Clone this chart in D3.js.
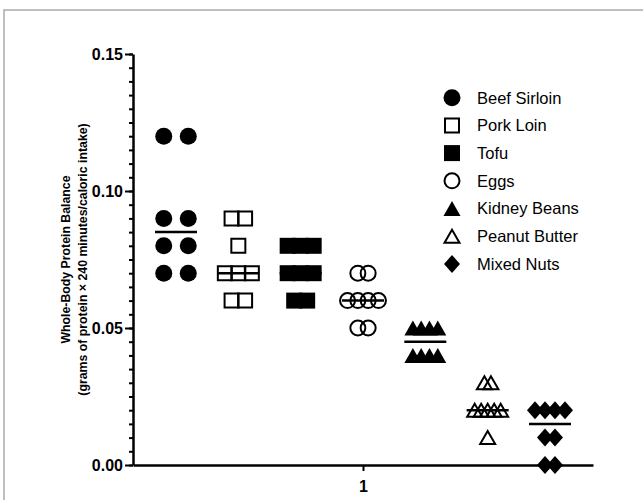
<!DOCTYPE html>
<html>
<head>
<meta charset="utf-8">
<script src="https://cdn.jsdelivr.net/npm/d3@7"></script>
<style>
  body { margin: 0; background: #fff; }
  svg { font-family: "Liberation Sans", Arial, sans-serif; }
</style>
</head>
<body>
<svg id="chart"></svg>
<script>
// Data (grams of protein x 240 min / caloric intake)
const categories = ['Beef Sirloin', 'Pork Loin', 'Tofu', 'Eggs', 'Kidney Beans', 'Peanut Butter', 'Mixed Nuts'];
const beefSirloin = [0.12, 0.12, 0.09, 0.09, 0.08, 0.08, 0.07, 0.07];
const porkLoin = [0.09, 0.09, 0.08, 0.07, 0.07, 0.07, 0.06, 0.06];
const tofu = [0.08, 0.08, 0.08, 0.07, 0.07, 0.07, 0.06, 0.06];
const eggs = [0.07, 0.07, 0.06, 0.06, 0.06, 0.06, 0.05, 0.05];
const kidneyBeans = [0.05, 0.05, 0.05, 0.05, 0.04, 0.04, 0.04, 0.04];
const peanutButter = [0.03, 0.03, 0.02, 0.02, 0.02, 0.02, 0.02, 0.01];
const mixedNuts = [0.02, 0.02, 0.02, 0.02, 0.01, 0.01, 0.00, 0.00];
const seriesValues = [beefSirloin, porkLoin, tofu, eggs, kidneyBeans, peanutButter, mixedNuts];
const yTicks = [0, 0.05, 0.10, 0.15];
const xTicks = [1];

// marker style per group, and horizontal spread of points that share a value
const symbols = ['circleFill', 'square', 'squareFill', 'circle', 'triangleFill', 'triangle', 'diamondFill'];
const spread = [24.5, 13.5, 13, 10.3, 8.3, 6.5, 10];

const width = 643, height = 500;
const margin = {top: 54, left: 133};
const innerW = 460, innerH = 411;

const svg = d3.select('#chart').attr('width', width).attr('height', height);

// light frame around the figure
svg.append('rect')
    .attr('x', 4).attr('y', 10)
    .attr('width', 720).attr('height', 600)
    .attr('fill', 'none')
    .attr('stroke', '#ababab')
    .attr('stroke-width', 1.5);

const chart = svg.append('g')
    .attr('transform', `translate(${margin.left},${margin.top})`);

const yScale = d3.scaleLinear().domain([0, 0.15]).range([innerH, 0]);
const xAxisScale = d3.scaleLinear().domain([0, 2]).range([0, innerW]);
const groupScale = d3.scalePoint().domain(categories).range([0, innerW]).padding(0.69);

// marker paths centred on 0,0
function markerPath(type) {
  const p = d3.path();
  if (type.startsWith('circle')) {
    const r = type === 'circle' ? 7.5 : 8.5;
    p.arc(0, 0, r, 0, 2 * Math.PI);
  } else if (type.startsWith('square')) {
    const h = type === 'square' ? 7 : 8;
    p.rect(-h, -h, 2 * h, 2 * h);
  } else if (type.startsWith('triangle')) {
    const w = type === 'triangle' ? 7.5 : 8.5, t = type === 'triangle' ? 6.5 : 7.5;
    p.moveTo(0, -t); p.lineTo(w, t); p.lineTo(-w, t); p.closePath();
  } else {
    p.moveTo(0, -9); p.lineTo(8, 0); p.lineTo(0, 9); p.lineTo(-8, 0); p.closePath();
  }
  return p.toString();
}
const isFilled = t => t.endsWith('Fill');

// axes
const yAxisMinor = d3.axisLeft(yScale)
    .tickValues(d3.range(0, 0.1501, 0.005))
    .tickSize(4).tickSizeOuter(0).tickFormat('');
const yAxis = d3.axisLeft(yScale)
    .tickValues(yTicks).tickSize(8).tickSizeOuter(0).tickPadding(2)
    .tickFormat(d3.format('.2f'));
const xAxis = d3.axisBottom(xAxisScale)
    .tickValues(xTicks).tickSize(6).tickSizeOuter(0).tickPadding(10)
    .tickFormat(d3.format('d'));

const yMinorG = chart.append('g').call(yAxisMinor);
yMinorG.select('.domain').remove();
yMinorG.selectAll('.tick line').attr('stroke-width', 2);

const yAxisG = chart.append('g').call(yAxis);
const xAxisG = chart.append('g').attr('transform', `translate(0,${innerH})`).call(xAxis);

[yAxisG, xAxisG].forEach(g => {
  g.attr('font-family', null).attr('font-size', null);
  g.select('.domain').attr('stroke-width', 2.5);
  g.selectAll('.tick line').attr('stroke-width', 2);
  g.selectAll('.tick text')
      .attr('font-size', 16).attr('font-weight', 'bold').attr('fill', '#000');
});

// y axis title
const yTitle = svg.append('text')
    .attr('transform', `translate(66,${margin.top + innerH / 2}) rotate(-90)`)
    .attr('text-anchor', 'middle')
    .attr('font-size', 12.3)
    .attr('font-weight', 'bold');
yTitle.append('tspan').attr('x', 0).attr('dy', '0.35em').text('Whole-Body Protein Balance');
yTitle.append('tspan').attr('x', 0).attr('dy', 16.5).text('(grams of protein \u00d7 240 minutes/caloric intake)');

// points and median lines
categories.forEach((cat, gi) => {
  const values = seriesValues[gi];
  const cx = groupScale(cat);
  const type = symbols[gi];
  const g = chart.append('g').attr('class', 'group');

  // median line
  const med = d3.median(values);
  g.append('line')
      .attr('x1', cx - 21).attr('x2', cx + 21)
      .attr('y1', yScale(med)).attr('y2', yScale(med))
      .attr('stroke', '#000').attr('stroke-width', 2.5);

  // spread points that share a value side by side
  const points = [];
  d3.group(values, v => v).forEach((vals, v) => {
    vals.forEach((_, i) => points.push({v, off: (i - (vals.length - 1) / 2) * spread[gi]}));
  });

  g.selectAll('path.pt')
    .data(points)
    .join('path')
      .attr('class', 'pt')
      .attr('d', markerPath(type))
      .attr('transform', d => `translate(${cx + d.off},${yScale(d.v)})`)
      .attr('fill', isFilled(type) ? '#000' : 'none')
      .attr('stroke', '#000')
      .attr('stroke-width', isFilled(type) ? 0 : 2);
});

// legend
const legend = svg.append('g').attr('transform', 'translate(452,97.7)');
const items = legend.selectAll('g')
    .data(categories)
    .join('g')
      .attr('transform', (d, i) => `translate(0,${i * 27.7})`);
items.append('path')
    .attr('d', (d, i) => markerPath(symbols[i]))
    .attr('fill', (d, i) => isFilled(symbols[i]) ? '#000' : 'none')
    .attr('stroke', '#000')
    .attr('stroke-width', (d, i) => isFilled(symbols[i]) ? 0 : 2);
items.append('text')
    .attr('x', 25)
    .attr('dy', '0.36em')
    .attr('font-size', 16.5)
    .text(d => d);
</script>
</body>
</html>
